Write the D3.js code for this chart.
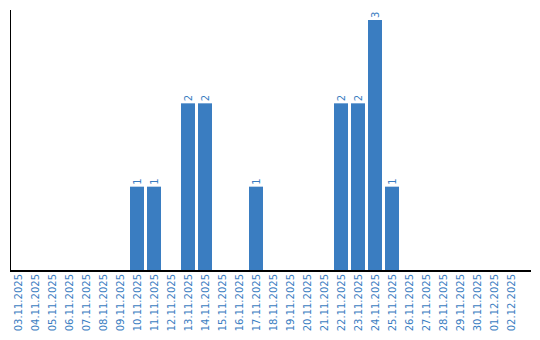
<!DOCTYPE html>
<html><head><meta charset="utf-8">
<script src="https://cdn.jsdelivr.net/npm/d3@7"></script>
<style>body{margin:0;background:#fff}</style>
</head><body>
<svg id="c" width="540" height="340"></svg>
<script>
const dates = ["03.11.2025","04.11.2025","05.11.2025","06.11.2025","07.11.2025","08.11.2025","09.11.2025","10.11.2025","11.11.2025","12.11.2025","13.11.2025","14.11.2025","15.11.2025","16.11.2025","17.11.2025","18.11.2025","19.11.2025","20.11.2025","21.11.2025","22.11.2025","23.11.2025","24.11.2025","25.11.2025","26.11.2025","27.11.2025","28.11.2025","29.11.2025","30.11.2025","01.12.2025","02.12.2025"];
const counts = [0,0,0,0,0,0,0,1,1,0,2,2,0,0,1,0,0,0,0,2,2,3,1,0,0,0,0,0,0,0];

const svg = d3.select("#c");
const blue = "#3a7dc1";
const x = d3.scaleBand().domain(dates).range([9.5, 519.5]).paddingInner(0.176).paddingOuter(0.088);
const y = d3.scaleLinear().domain([0, 3]).range([270, 20]);
const data = dates.map((d, i) => ({d, v: counts[i]}));

svg.selectAll("rect.bar").data(data.filter(e => e.v > 0)).join("rect")
  .attr("class","bar")
  .attr("x", e => Math.round(x(e.d)))
  .attr("width", Math.round(x.bandwidth()))
  .attr("y", e => y(e.v))
  .attr("height", e => y(0) - y(e.v))
  .attr("fill", blue);

svg.selectAll("text.val").data(data.filter(e => e.v > 0)).join("text")
  .attr("class","val")
  .attr("transform", e => `translate(${Math.round(x(e.d)) + x.bandwidth()/2 + 3.5},${y(e.v) - 2}) rotate(-90)`)
  .attr("font-family","DejaVu Sans, Verdana, sans-serif")
  .attr("font-size","10px")
  .attr("fill", blue)
  .text(e => e.v);

// axes lines
svg.append("line").attr("x1",10.5).attr("x2",10.5).attr("y1",10).attr("y2",270).attr("stroke","#000").attr("stroke-width",1);
svg.append("line").attr("x1",10).attr("x2",531).attr("y1",271).attr("y2",271).attr("stroke","#000").attr("stroke-width",2);

const xAxis = d3.axisBottom(x).tickSize(0).tickPadding(0);
const g = svg.append("g").attr("transform","translate(0,271)").call(xAxis);
g.select(".domain").remove();
g.selectAll("text")
  .attr("font-family","DejaVu Sans, Verdana, sans-serif")
  .attr("font-size","10px")
  .attr("fill", blue)
  .attr("text-anchor","end")
  .attr("dy", null)
  .attr("y", 0)
  .attr("transform", function(){ return `translate(${3.5},3) rotate(-90)`; });
</script>
</body></html>
